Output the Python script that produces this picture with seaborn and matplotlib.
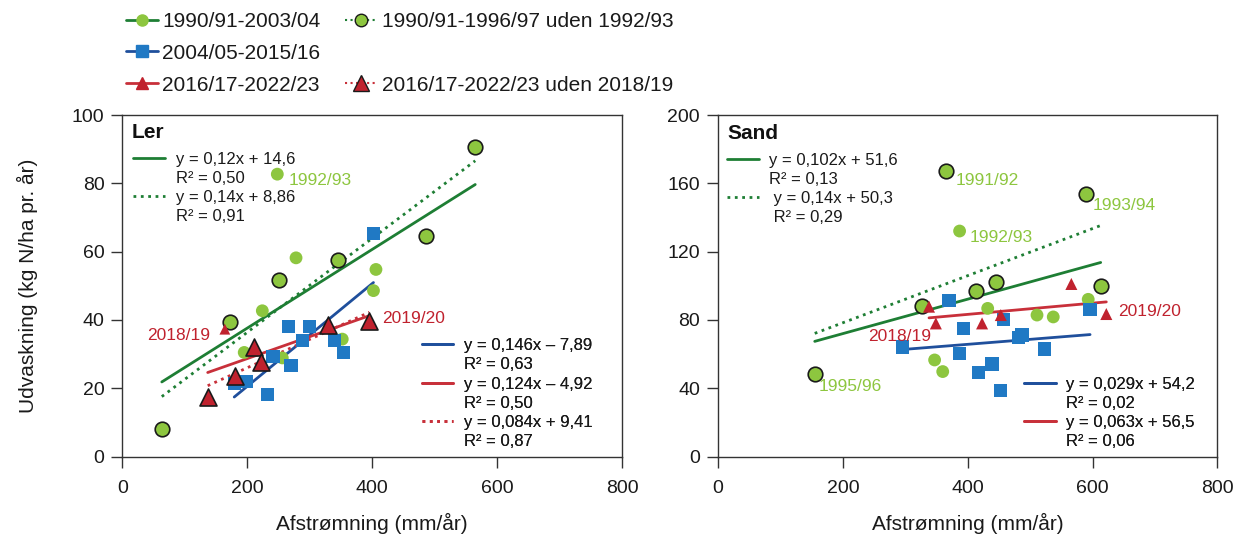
import numpy as np
import pandas as pd
import matplotlib
matplotlib.use("Agg")
import matplotlib.pyplot as plt
import seaborn as sns
from matplotlib.lines import Line2D

# ---------------- data ----------------
# Ler (clay)
ler_p1_x = [63, 565, 486, 345, 251, 172, 248, 278, 406, 402, 224, 352, 195, 256]
ler_p1_y = [8.1, 90.6, 64.7, 57.6, 51.8, 39.5, 82.7, 58.2, 54.8, 48.6, 42.7, 34.4, 30.5, 28.9]
ler_p1_sub = [True, True, True, True, True, True, False, False, False, False, False, False, False, False]
ler_p1_lab = ['', '', '', '', '', '', '1992/93', '', '', '', '', '', '', '']
ler_p2_x = [402, 266, 300, 288, 340, 354, 241, 270, 198, 179, 232]
ler_p2_y = [65.3, 38.0, 38.2, 34.0, 33.9, 30.4, 29.4, 26.7, 22.1, 21.3, 18.1]
ler_p3_x = [164, 136.5, 180, 211, 222, 328.5, 395.5]
ler_p3_y = [37.3, 17.5, 23.6, 32.0, 27.6, 38.5, 39.7]
ler_p3_sub = [False, True, True, True, True, True, True]
ler_p3_lab = ['2018/19', '', '', '', '', '', '2019/20']

# Sand
sand_p1_x = [366, 589, 155, 445, 414, 613, 326, 387, 432, 511, 537, 593, 347, 360]
sand_p1_y = [167.2, 153.5, 48.6, 102.2, 97.0, 99.9, 88.2, 132.1, 86.8, 82.9, 81.8, 92.1, 56.6, 49.8]
sand_p1_sub = [True, True, True, True, True, True, True, False, False, False, False, False, False, False]
sand_p1_lab = ['1991/92', '1993/94', '1995/96', '', '', '', '', '1992/93', '', '', '', '', '', '']
sand_p2_x = [370, 596, 457, 393, 487, 482, 296, 523, 387, 439, 417, 452]
sand_p2_y = [91.5, 86.2, 80.4, 75.1, 71.2, 69.7, 64.2, 63.0, 60.3, 54.2, 49.2, 38.6]
sand_p3_x = [338, 349, 423, 453, 566, 622]
sand_p3_y = [87.8, 78.0, 78.0, 82.9, 101.1, 83.5]
sand_p3_lab = ['', '2018/19', '', '', '', '2019/20']

legend_labels = ["1990/91-2003/04", "2004/05-2015/16", "2016/17-2022/23",
                 "1990/91-1996/97 uden 1992/93", "2016/17-2022/23 uden 2018/19"]
ler_eq_top = ["y = 0,12x + 14,6", "R² = 0,50", "y = 0,14x + 8,86", "R² = 0,91"]
ler_eq_bot = ["y = 0,146x – 7,89", "R² = 0,63", "y = 0,124x – 4,92", "R² = 0,50",
              "y = 0,084x + 9,41", "R² = 0,87"]
sand_eq_top = ["y = 0,102x + 51,6", "R² = 0,13", " y = 0,14x + 50,3", " R² = 0,29"]
sand_eq_bot = ["y = 0,029x + 54,2", "R² = 0,02", "y = 0,063x + 56,5", "R² = 0,06"]

# ---------------- style ----------------
sns.set_theme(style="ticks")
plt.rcParams['font.family'] = ['Liberation Sans', 'DejaVu Sans']

G_LINE = "#1e7e34"
G_MARK = "#8dc63f"
B_LINE = "#1f4f9c"
B_MARK = "#2079c4"
R_LINE = "#c8303a"
R_MARK = "#c0222e"
EDGE = "#1a1a1a"
AX = "#333333"

label_offsets = {
    ('L', '1992/93'): (8.3, -4.8, 'left'),
    ('L', '2018/19'): (-10.3, -4.3, 'right'),
    ('L', '2019/20'): (9.4, 1.9, 'left'),
    ('S', '1991/92'): (6.8, -6.5, 'left'),
    ('S', '1993/94'): (5.0, -7.6, 'left'),
    ('S', '1992/93'): (7.0, -4.5, 'left'),
    ('S', '1995/96'): (2.5, -9.4, 'left'),
    ('S', '2018/19'): (-3.3, -9.4, 'right'),
    ('S', '2019/20'): (8.6, 1.7, 'left'),
}

fig = plt.figure(figsize=(12.37, 5.37), dpi=100)
axL = fig.add_axes([0.0990, 0.1497, 0.4038, 0.636])
axR = fig.add_axes([0.5804, 0.1497, 0.4038, 0.636])


def fit(ax, x, y, color, ls):
    sns.regplot(x=np.asarray(x, float), y=np.asarray(y, float), ax=ax, scatter=False,
                ci=None, truncate=True, line_kws=dict(color=color, lw=2.0, ls=ls, zorder=2))


def annotate(ax, key, x, y, labs, color):
    for xi, yi, lab in zip(x, y, labs):
        if lab:
            dx, dy, ha = label_offsets[(key, lab)]
            ax.annotate(lab, xy=(xi, yi), xytext=(dx, dy), textcoords='offset points',
                        ha=ha, va='center', color=color, fontsize=12.5, zorder=6)


def style_axes(ax, ymax, ystep):
    ax.set_xlim(0, 800)
    ax.set_ylim(0, ymax)
    ax.set_xticks(np.arange(0, 801, 200))
    ax.set_yticks(np.arange(0, ymax + 1, ystep))
    for s in ax.spines.values():
        s.set_visible(True)
        s.set_color(AX)
        s.set_linewidth(1.0)
    ax.tick_params(axis='both', direction='out', length=8, width=1, color=AX,
                   labelsize=14, labelcolor="#1a1a1a")
    ax.tick_params(axis='x', pad=8.5)
    ax.tick_params(axis='y', pad=5)
    ax.set_xlabel("Afstrømning (mm/år)", fontsize=15, color="#1a1a1a", labelpad=12)
    ax.grid(False)


def eq_legend(ax, handles, labels, loc, anchor):
    leg = ax.legend(handles, labels, loc=loc, bbox_to_anchor=anchor, frameon=False,
                    fontsize=12, handlelength=1.9, handletextpad=0.64, labelspacing=0.25,
                    borderpad=0, borderaxespad=0)
    for t in leg.get_texts():
        t.set_color("#1a1a1a")
    ax.add_artist(leg)
    return leg


blank = Line2D([], [], color='none', lw=0)

# ---------------- Ler ----------------
ax = axL
p1 = pd.DataFrame(dict(x=ler_p1_x, y=ler_p1_y, sub=ler_p1_sub))
p3 = pd.DataFrame(dict(x=ler_p3_x, y=ler_p3_y, sub=ler_p3_sub))
fit(ax, p1.x, p1.y, G_LINE, '-')
fit(ax, p1.x[p1['sub']], p1.y[p1['sub']], G_LINE, ':')
fit(ax, ler_p2_x, ler_p2_y, B_LINE, '-')
fit(ax, p3.x, p3.y, R_LINE, '-')
fit(ax, p3.x[p3['sub']], p3.y[p3['sub']], R_LINE, ':')
sns.scatterplot(x=p1.x[~p1['sub']], y=p1.y[~p1['sub']], ax=ax, marker='o', s=85,
                color=G_MARK, edgecolor='none', zorder=3)
sns.scatterplot(x=p1.x[p1['sub']], y=p1.y[p1['sub']], ax=ax, marker='o', s=110,
                color=G_MARK, edgecolor=EDGE, linewidth=1.2, zorder=3)
sns.scatterplot(x=ler_p2_x, y=ler_p2_y, ax=ax, marker='s', s=90,
                color=B_MARK, edgecolor='none', zorder=4)
sns.scatterplot(x=p3.x[~p3['sub']], y=p3.y[~p3['sub']], ax=ax, marker='^', s=60,
                color=R_MARK, edgecolor='none', zorder=5)
sns.scatterplot(x=p3.x[p3['sub']], y=p3.y[p3['sub']], ax=ax, marker='^', s=150,
                color=R_MARK, edgecolor=EDGE, linewidth=1.2, zorder=5)
annotate(ax, 'L', ler_p1_x, ler_p1_y, ler_p1_lab, G_MARK)
annotate(ax, 'L', ler_p3_x, ler_p3_y, ler_p3_lab, R_MARK)
style_axes(ax, 100, 20)
ax.set_ylabel("Udvaskning (kg N/ha pr. år)", fontsize=15, color="#1a1a1a", labelpad=24)
ax.text(0.019, 0.949, "Ler", transform=ax.transAxes, fontsize=15, fontweight='bold',
        ha='left', va='center', color="#111111")
hG = Line2D([], [], color=G_LINE, lw=2)
hGd = Line2D([], [], color=G_LINE, lw=2, ls=':')
hB = Line2D([], [], color=B_LINE, lw=2)
hR = Line2D([], [], color=R_LINE, lw=2)
hRd = Line2D([], [], color=R_LINE, lw=2, ls=':')
eq_legend(ax, [hG, blank, hGd, blank], ler_eq_top, 'upper left', (0.0216, 0.892))
eq_legend(ax, [hB, blank, hR, blank, hRd, blank], ler_eq_bot, 'lower left', (0.599, 0.022))

# ---------------- Sand ----------------
ax = axR
s1 = pd.DataFrame(dict(x=sand_p1_x, y=sand_p1_y, sub=sand_p1_sub))
fit(ax, s1.x, s1.y, G_LINE, '-')
fit(ax, s1.x[s1['sub']], s1.y[s1['sub']], G_LINE, ':')
fit(ax, sand_p2_x, sand_p2_y, B_LINE, '-')
fit(ax, sand_p3_x, sand_p3_y, R_LINE, '-')
sns.scatterplot(x=s1.x[~s1['sub']], y=s1.y[~s1['sub']], ax=ax, marker='o', s=85,
                color=G_MARK, edgecolor='none', zorder=3)
sns.scatterplot(x=s1.x[s1['sub']], y=s1.y[s1['sub']], ax=ax, marker='o', s=110,
                color=G_MARK, edgecolor=EDGE, linewidth=1.2, zorder=3)
sns.scatterplot(x=sand_p2_x, y=sand_p2_y, ax=ax, marker='s', s=90,
                color=B_MARK, edgecolor='none', zorder=4)
sns.scatterplot(x=sand_p3_x, y=sand_p3_y, ax=ax, marker='^', s=75,
                color=R_MARK, edgecolor='none', zorder=5)
annotate(ax, 'S', sand_p1_x, sand_p1_y, sand_p1_lab, G_MARK)
annotate(ax, 'S', sand_p3_x, sand_p3_y, sand_p3_lab, R_MARK)
style_axes(ax, 200, 40)
ax.set_ylabel("")
ax.text(0.018, 0.946, "Sand", transform=ax.transAxes, fontsize=15, fontweight='bold',
        ha='left', va='center', color="#111111")
eq_legend(ax, [hG, blank, hGd, blank], sand_eq_top, 'upper left', (0.018, 0.889))
eq_legend(ax, [hB, blank, hR, blank], sand_eq_bot, 'lower left', (0.613, 0.022))

# ---------------- figure legend ----------------
lh = [
    Line2D([], [], color=G_LINE, lw=2, marker='o', markersize=8, markerfacecolor=G_MARK,
           markeredgecolor=G_MARK),
    Line2D([], [], color=B_LINE, lw=2, marker='s', markersize=8, markerfacecolor=B_MARK,
           markeredgecolor=B_MARK),
    Line2D([], [], color=R_LINE, lw=2, marker='^', markersize=9, markerfacecolor=R_MARK,
           markeredgecolor=R_MARK),
    Line2D([], [], color=G_LINE, lw=1.5, ls=':', marker='o', markersize=9,
           markerfacecolor=G_MARK, markeredgecolor=EDGE),
    Line2D([], [], color='none', lw=0),
    Line2D([], [], color=R_LINE, lw=1.5, ls=':', marker='^', markersize=11,
           markerfacecolor=R_MARK, markeredgecolor=EDGE),
]
ll = [legend_labels[0], legend_labels[1], legend_labels[2], legend_labels[3], '', legend_labels[4]]
fl = fig.legend(lh, ll, loc='upper left', bbox_to_anchor=(0.1015, 0.978), ncol=2,
                frameon=False, fontsize=15, handlelength=1.55, handletextpad=0.2,
                columnspacing=1.2, labelspacing=0.62, borderpad=0, borderaxespad=0,
                numpoints=1)
for t in fl.get_texts():
    t.set_color("#1a1a1a")

fig.savefig("out.png", dpi=100)
